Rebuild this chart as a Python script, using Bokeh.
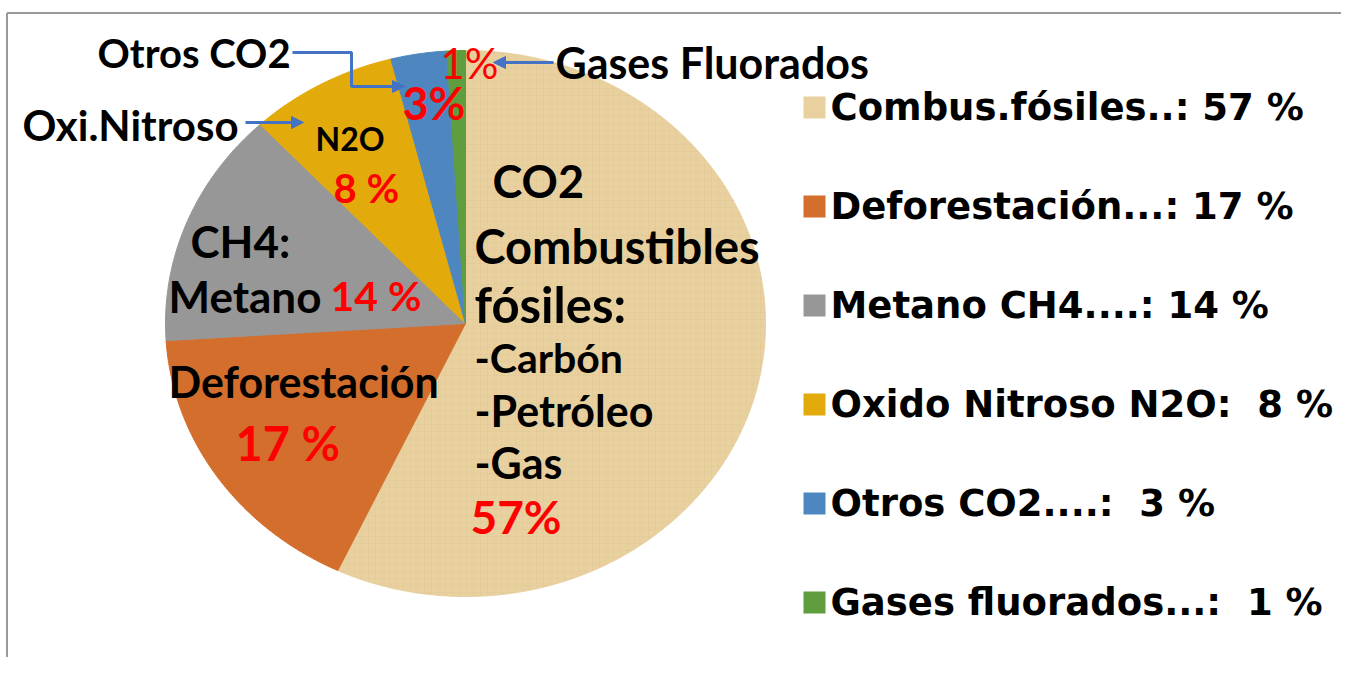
import numpy as np
from bokeh.plotting import figure
from bokeh.models import Range1d, Arrow, NormalHead
from bokeh.core.properties import value
from bokeh.embed import file_html
from bokeh.resources import INLINE

# ---- data ----
categories = ["Combus.fósiles", "Deforestación", "Metano CH4", "Oxido Nitroso N2O", "Otros CO2", "Gases fluorados"]
shares = [57, 17, 14, 8, 3, 1]
colors = ["#E8D09F", "#D36E2C", "#979797", "#E3AA0B", "#4E87BF", "#5F9D3F"]
legend_labels = ["Combus.fósiles..: 57 %", "Deforestación...: 17 %", "Metano CH4....: 14 %",
                 "Oxido Nitroso N2O:\u00a0 8 %", "Otros CO2....:\u00a0 3 %", "Gases fluorados...:\u00a0 1 %"]

W, H = 1341, 657
p = figure(width=W, height=H, x_range=Range1d(0, W), y_range=Range1d(H, 0),
           output_backend="svg", toolbar_location=None, min_border=0)
p.axis.visible = False
p.grid.visible = False
p.outline_line_color = None
p.background_fill_color = "white"
p.border_fill_color = "white"

# frame lines (top and left)
p.line(x=[6.5, W + 5], y=[12.5, 12.5], line_color="#9A9A9A", line_width=2)
p.line(x=[6.5, 6.5], y=[12.5, H + 5], line_color="#9A9A9A", line_width=2)

# ---- elliptical pie ----
cx, cy, rx, ry = 465, 323, 300, 273
cum = np.cumsum([0] + shares) / sum(shares)
xs, ys = [], []
for i in range(len(shares)):
    n = max(int((cum[i + 1] - cum[i]) * 600), 6)
    t = np.linspace(cum[i], cum[i + 1], n) * 2 * np.pi
    xs.append(np.concatenate([[cx], cx + rx * np.sin(t), [cx]]))
    ys.append(np.concatenate([[cy], cy - ry * np.cos(t), [cy]]))
p.patches(xs, ys, fill_color=colors, line_color=colors, line_width=1)
# papyrus-like texture on the fossil fuel slice
p.patches([xs[0]], [ys[0]], fill_alpha=0, line_color=None, hatch_pattern="cross",
          hatch_color="#C9AE78", hatch_alpha=0.18, hatch_scale=7, hatch_weight=0.6)


def label(x, y, txt, size, color="black", bold=True, font="Lato", align="left"):
    p.text(x=[x], y=[y], text=[txt], text_font=value(font), text_font_size=f"{size}px",
           text_font_style="bold" if bold else "normal", text_color=color,
           text_baseline="middle", text_align=align)


RED = "#FF0000"
# fossil slice labels
label(492, 180, "CO2", 45)
label(474, 245, "Combustibles", 47)
label(474, 303, "fósiles:", 49)
label(474, 357, "-Carbón", 41)
label(474, 410, "-Petróleo", 43)
label(474, 462, "-Gas", 43)
label(470, 516, f"{shares[0]}%", 46, RED)
# methane
label(190, 240, "CH4:", 44)
label(168, 295, "Metano", 44)
label(330, 295, f"{shares[2]} %", 41, RED)
# deforestation
label(168, 381, "Deforestación", 43)
label(235, 442, f"{shares[1]} %", 47, RED)
# N2O
label(315, 138, "N2O", 32)
label(333, 187, f"{shares[3]} %", 40, RED)
# others
label(402, 102, f"{shares[4]}%", 45, RED)
label(440, 62, f"{shares[5]}%", 42, RED, bold=False)
# outside callouts
label(97, 52, "Otros CO2", 40)
label(22, 124, "Oxi.Nitroso", 42)
label(555, 62, "Gases Fluorados", 43)

# arrows
BLUE = "#4472C4"
p.line(x=[292, 351, 351, 380], y=[52, 52, 86, 86], line_color=BLUE, line_width=3)
p.add_layout(Arrow(end=NormalHead(size=12, fill_color=BLUE, line_color=BLUE),
                   x_start=378, y_start=86, x_end=404, y_end=86, line_color=BLUE, line_width=3))
p.add_layout(Arrow(end=NormalHead(size=12, fill_color=BLUE, line_color=BLUE),
                   x_start=245, y_start=122, x_end=303, y_end=122, line_color=BLUE, line_width=3))
p.add_layout(Arrow(end=NormalHead(size=12, fill_color=BLUE, line_color=BLUE),
                   x_start=553, y_start=62, x_end=493, y_end=62, line_color=BLUE, line_width=3))

# ---- legend ----
leg_y = [107 + 99 * i for i in range(len(categories))]
p.scatter(x=[814] * len(categories), y=leg_y, marker="square", size=22,
          fill_color=colors, line_color=None)
p.text(x=[830] * len(categories), y=leg_y, text=legend_labels, text_font=value("DejaVu Sans"),
       text_font_size="37px", text_font_style="bold", text_color="black",
       text_baseline="middle", text_align="left")

open("out.html", "w").write(file_html(p, INLINE))
